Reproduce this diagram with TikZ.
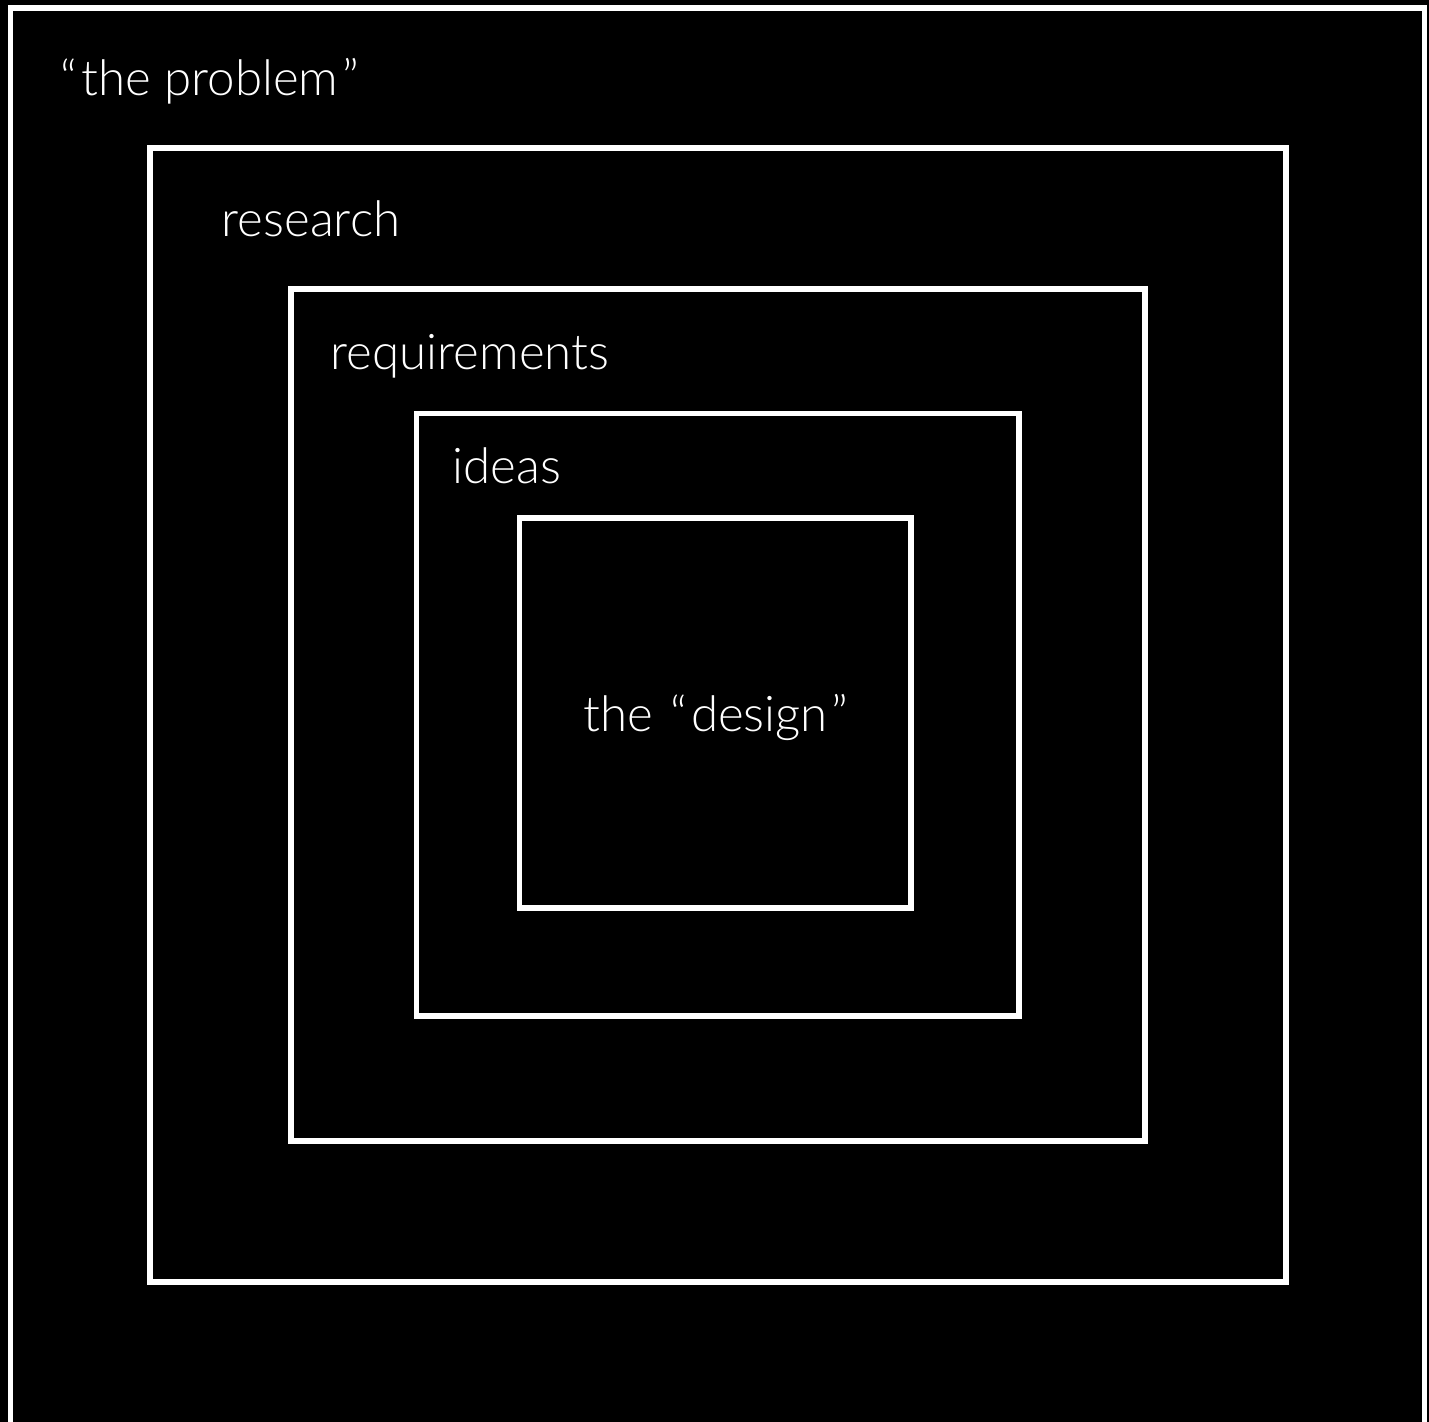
\documentclass[tikz,border=0pt]{standalone}
\usepackage{fontspec}
\setmainfont{Lato Light}
\usepackage{tikz}
\usetikzlibrary{positioning}

\tikzset{
  frame/.style={draw=white, line width=1.5pt},
  lbl/.style={text=white, inner sep=0pt, anchor=base west, font=\fontsize{14}{17}\selectfont},
}
\newcommand{\qkern}{\kern0.08em}

\begin{document}
\begin{tikzpicture}[x=0.01cm, y=-0.01cm]
          \useasboundingbox (0,0) rectangle (1429,1422);
          \clip (0,0) rectangle (1429,1422);
          \fill[black] (0,0) rectangle (1429,1422);

          % Boxes, outside in
          \draw[frame] (10.5,8) rectangle (1424.5,1440);
          \draw[frame] (150,148) rectangle (1286,1282);
          \draw[frame] (291,289) rectangle (1145,1141);
          \draw[frame] (416.5,413.5) rectangle (1019,1016);
          \draw[frame] (519.5,518) rectangle (911,908);

          % Labels
          \node[lbl] (problem) at (60,96) {“\qkern the problem\qkern”};
          \node[lbl] (research) at (221,237) {research};
          \node[lbl] (requirements) at (330,370) {requirements};
          \node[lbl] (ideas) at (452,484) {ideas};
          \node[lbl, anchor=base] (design) at (716,732) {the\qkern{} “\qkern design\qkern”};
        \end{tikzpicture}
\end{document}
